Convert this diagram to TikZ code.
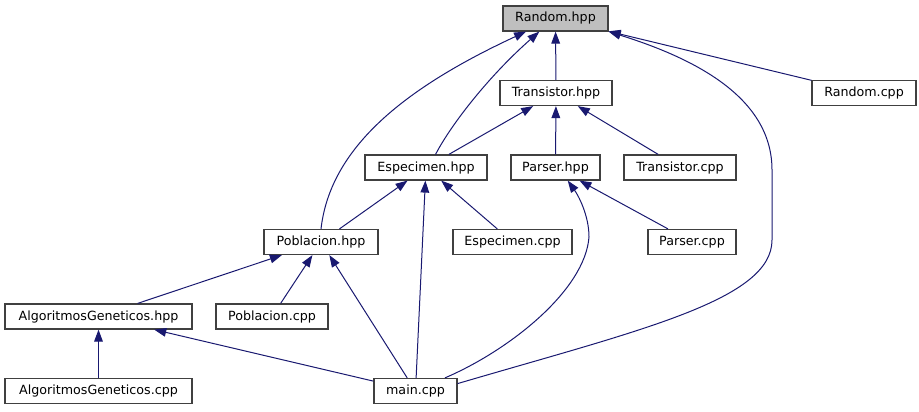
\documentclass[tikz,border=0pt]{standalone}
\usepackage{fontspec}
\setmainfont{DejaVu Sans}
\usetikzlibrary{arrows.meta}
\definecolor{edgeblue}{RGB}{25,25,112}
\definecolor{boxgray}{RGB}{191,191,191}

\begin{document}
\begin{tikzpicture}[x=0.75pt,y=-0.75pt,
        box/.style={draw=black!75,line width=0.9pt,fill=white,minimum height=18.75pt,inner sep=0pt,font=\fontsize{9.5}{11}\selectfont},
        edge/.style={draw=edgeblue,line width=0.75pt,-{Triangle[length=9pt,width=6.5pt]}}]
            \useasboundingbox (0,0) rectangle (919,411);
            \node[box,fill=boxgray,minimum width=78.75pt] (rhpp) at (555.5,18.5) {Random.hpp};
            \foreach \n/\x/\y/\w/\t in {thpp/556/93/84/Transistor.hpp, rcpp/864/93/78/Random.cpp,
                ehpp/426/167.5/91.5/Especimen.hpp, phpp/555.5/167.5/66.75/Parser.hpp, tcpp/680/167.5/84/Transistor.cpp,
                pobhpp/321/242/85.5/Poblacion.hpp, ecpp/512.5/242/89.25/Especimen.cpp, pcpp/692/242/66/Parser.cpp,
                aghpp/98.5/316.5/140.25/AlgoritmosGeneticos.hpp, pobcpp/272/316.5/84/Poblacion.cpp,
                agcpp/98.5/391/140.25/AlgoritmosGeneticos.cpp, main/415.5/391/62.25/main.cpp}
                \node[box,minimum width=\w pt] (\n) at (\x,\y) {\t};
            \foreach \a/\b in {thpp/rhpp, rcpp/rhpp, ehpp/thpp, phpp/thpp, tcpp/thpp,
                pobhpp/ehpp, ecpp/ehpp, main/ehpp, pcpp/phpp,
                aghpp/pobhpp, pobcpp/pobhpp, main/pobhpp, agcpp/aghpp, main/aghpp}
                \draw[edge] (\a) -- (\b);
            \draw[edge] (pobhpp.north) .. controls (330,150) and (400,90) .. (rhpp.204);
            \draw[edge] (ehpp.54) .. controls (452,123) and (490,75) .. (rhpp.219);
            \draw[edge] (main.10) .. controls (640,330) and (772,300) .. (772,240) -- (772,170) .. controls (772,100) and (700,60) .. (rhpp.south east);
            \draw[edge] (main.24) .. controls (510,350) and (585,290) .. (589,237) .. controls (589,215) and (578,195) .. (phpp.-47);
        \end{tikzpicture}
\end{document}
